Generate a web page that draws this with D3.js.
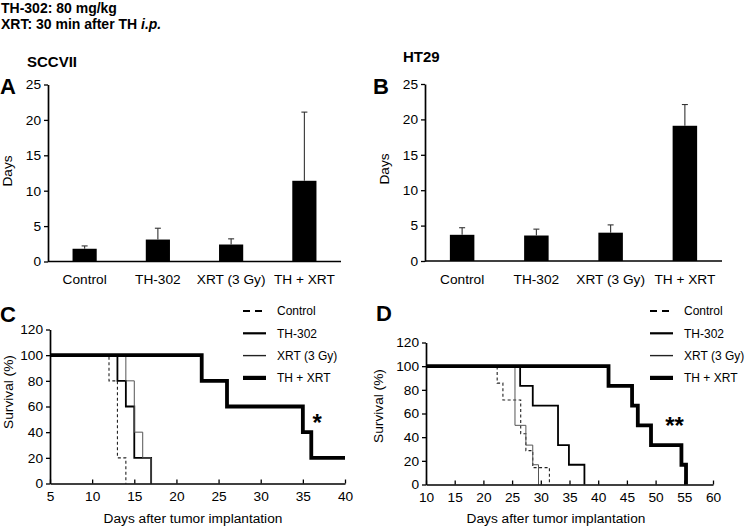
<!DOCTYPE html>
<html><head><meta charset="utf-8">
<script src="https://cdn.jsdelivr.net/npm/d3@7"></script>
<style>body{margin:0;background:#fff}svg{display:block}text{font-family:"Liberation Sans",Arial,Helvetica,sans-serif;fill:#000}</style>
</head><body><svg id="c" width="747" height="530"></svg>
<script>
// ---------- data ----------
const barCategories = ["Control", "TH-302", "XRT (3 Gy)", "TH + XRT"];
const sccviiMeans = [1.8, 3.1, 2.4, 11.4];
const sccviiErrTop = [2.2, 4.7, 3.2, 21.1];
const ht29Means = [3.7, 3.6, 4.0, 19.1];
const ht29ErrTop = [4.7, 4.5, 5.1, 22.1];
const barTicks = [0, 5, 10, 15, 20, 25];

const survSeries = ["Control", "TH-302", "XRT (3 Gy)", "TH + XRT"];
// SCCVII survival steps [day, % surviving]
const cControl = [[5, 100], [12, 80], [13, 20], [14, 0]];
const cTH302 = [[5, 100], [13, 80], [14, 60], [15, 20], [17, 0]];
const cXRT = [[5, 100], [14, 80], [15, 40], [16, 20], [17, 0]];
const cCombo = [[5, 100], [23, 80], [26, 60], [35, 40], [36, 20], [40, 20]];
const cXTicks = [5, 10, 15, 20, 25, 30, 35, 40];
// HT29 survival steps
const dControl = [[10, 100], [22.4, 85.7], [23.4, 71.4], [26.5, 42.9], [27.4, 28.6], [28.6, 14.3], [31.5, 0]];
const dTH302 = [[10, 100], [26.4, 83.3], [28.6, 66.7], [33.0, 33.3], [34.9, 16.7], [37.6, 0]];
const dXRT = [[10, 100], [25.5, 50], [27.4, 33.3], [28.6, 16.7], [29.6, 0]];
const dCombo = [[10, 100], [41.8, 83.3], [45.9, 66.7], [46.9, 50], [49.2, 33.3], [54.5, 16.7], [55.3, 0]];
const dXTicks = [10, 15, 20, 25, 30, 35, 40, 45, 50, 55, 60];
const survYTicks = [0, 20, 40, 60, 80, 100, 120];

// ---------- drawing ----------
const svg = d3.select("#c");
const FONT = 13.7;

svg.append("text").attr("x", 1).attr("y", 13).attr("font-size", 14).attr("font-weight", "bold").text("TH-302: 80 mg/kg");
const t2 = svg.append("text").attr("x", 1).attr("y", 29).attr("font-size", 14).attr("font-weight", "bold");
t2.append("tspan").text("XRT: 30 min after TH ");
t2.append("tspan").attr("font-style", "italic").text("i.p.");

function panelLetter(x, y, s) {
  svg.append("text").attr("x", x).attr("y", y).attr("font-size", 22).attr("font-weight", "bold").text(s);
}

function styleAxis(g) {
  g.selectAll("path.domain").attr("stroke", "#000").attr("stroke-width", 1.7);
  g.selectAll(".tick line").attr("stroke", "#000").attr("stroke-width", 1.3);
  g.selectAll(".tick text").attr("font-size", FONT).attr("font-family", "'Liberation Sans',Arial,sans-serif").attr("fill", "#000");
}

function barPanel(opt) {
  const x = d3.scaleBand().domain(barCategories).range([opt.x0, opt.x1]).paddingInner(0.67).paddingOuter(0.335);
  const y = d3.scaleLinear().domain([0, 25]).range([opt.y0, opt.y1]);
  const g = svg.append("g");
  g.selectAll("rect").data(barCategories).join("rect")
    .attr("x", d => x(d)).attr("width", x.bandwidth())
    .attr("y", (d, i) => y(opt.means[i])).attr("height", (d, i) => y(0) - y(opt.means[i]))
    .attr("fill", "#000");
  const eb = g.selectAll("g.eb").data(barCategories).join("g").attr("class", "eb");
  eb.append("line")
    .attr("x1", d => x(d) + x.bandwidth() / 2).attr("x2", d => x(d) + x.bandwidth() / 2)
    .attr("y1", (d, i) => y(opt.means[i])).attr("y2", (d, i) => y(opt.err[i]))
    .attr("stroke", "#333").attr("stroke-width", 1.1);
  eb.append("line")
    .attr("x1", d => x(d) + x.bandwidth() / 2 - 3).attr("x2", d => x(d) + x.bandwidth() / 2 + 3)
    .attr("y1", (d, i) => y(opt.err[i])).attr("y2", (d, i) => y(opt.err[i]))
    .attr("stroke", "#333").attr("stroke-width", 1.1);
  const ya = g.append("g").attr("transform", `translate(${opt.x0},0)`)
    .call(d3.axisLeft(y).tickValues(barTicks).tickSize(4).tickSizeOuter(0).tickPadding(3));
  styleAxis(ya);
  const xa = g.append("g").attr("transform", `translate(0,${opt.y0})`)
    .call(d3.axisBottom(x).tickSize(0).tickPadding(13));
  styleAxis(xa);
  xa.select("path.domain").attr("d", `M${opt.x0},0H${opt.x1}`);
  g.append("text").attr("transform", `translate(${opt.ytx},${opt.yty}) rotate(-90)`)
    .attr("text-anchor", "middle").attr("font-size", FONT).text("Days");
}

barPanel({x0: 48, x1: 341, y0: 261.5, y1: 84.5, means: sccviiMeans, err: sccviiErrTop, ytx: 12, yty: 171});
barPanel({x0: 425, x1: 722, y0: 261, y1: 84, means: ht29Means, err: ht29ErrTop, ytx: 389, yty: 169});

svg.append("text").attr("x", 27).attr("y", 67).attr("font-size", 15).attr("font-weight", "bold").text("SCCVII");
svg.append("text").attr("x", 403).attr("y", 62).attr("font-size", 15).attr("font-weight", "bold").text("HT29");
panelLetter(0, 94, "A");
panelLetter(373, 94, "B");
panelLetter(0, 322, "C");
panelLetter(376, 321, "D");

const lineStyles = [
  {w: 1.1, c: "#222", dash: "3,2.5"},
  {w: 1.8, c: "#000", dash: null},
  {w: 1.0, c: "#555", dash: null},
  {w: 3.8, c: "#000", dash: null}
];
const legendStyles = [
  {w: 2.2, c: "#000", dash: "7,5"},
  {w: 2.2, c: "#000", dash: null},
  {w: 1.4, c: "#222", dash: null},
  {w: 4.2, c: "#000", dash: null}
];

function survPanel(opt) {
  const x = d3.scaleLinear().domain(opt.xdom).range([opt.x0, opt.x1]);
  const y = d3.scaleLinear().domain([0, 120]).range([opt.y0, opt.y1]);
  const g = svg.append("g");
  const line = d3.line().x(d => x(d[0])).y(d => y(d[1])).curve(d3.curveStepAfter);
  opt.series.forEach((s, i) => {
    const st = lineStyles[i];
    g.append("path").attr("d", line(s)).attr("fill", "none")
      .attr("stroke", st.c).attr("stroke-width", st.w)
      .attr("stroke-dasharray", st.dash).attr("stroke-linejoin", "miter").attr("stroke-linecap", "butt");
  });
  const ya = g.append("g").attr("transform", `translate(${opt.x0},0)`)
    .call(d3.axisLeft(y).tickValues(survYTicks).tickSize(4).tickSizeOuter(0).tickPadding(3));
  styleAxis(ya);
  const xa = g.append("g").attr("transform", `translate(0,${opt.y0})`)
    .call(d3.axisBottom(x).tickValues(opt.xticks).tickSize(-4).tickSizeOuter(0).tickPadding(8));
  styleAxis(xa);
  g.append("text").attr("transform", `translate(${opt.ytx},${opt.yty}) rotate(-90)`)
    .attr("text-anchor", "middle").attr("font-size", FONT).text("Survival (%)");
  g.append("text").attr("x", opt.xtx).attr("y", 523).attr("text-anchor", "middle")
    .attr("font-size", FONT).text("Days after tumor implantation");
  survSeries.forEach((name, i) => {
    const st = legendStyles[i];
    const ly = opt.ly0 + i * 22.3;
    g.append("line").attr("x1", opt.lx).attr("x2", opt.lx + 23).attr("y1", ly).attr("y2", ly)
      .attr("stroke", st.c).attr("stroke-width", st.w).attr("stroke-dasharray", st.dash);
    g.append("text").attr("x", opt.lx + 34).attr("y", ly + 4.3).attr("font-size", 12).text(name);
  });
  g.append("text").attr("x", x(opt.star[0])).attr("y", y(opt.star[1])).attr("text-anchor", "middle")
    .attr("font-size", 24).attr("font-weight", "bold").text(opt.star[2]);
}

survPanel({xdom: [5, 40], x0: 50, x1: 345, y0: 483.5, y1: 329.5,
  series: [cControl, cTH302, cXRT, cCombo], xticks: cXTicks, ytx: 13, yty: 392, xtx: 193,
  lx: 243, ly0: 311, star: [36.7, 41, "*"]});
survPanel({xdom: [10, 60], x0: 426, x1: 713, y0: 484.5, y1: 342.5,
  series: [dControl, dTH302, dXRT, dCombo], xticks: dXTicks, ytx: 383, yty: 406, xtx: 556,
  lx: 650, ly0: 311, star: [53.3, 42.7, "**"]});
</script></body></html>
